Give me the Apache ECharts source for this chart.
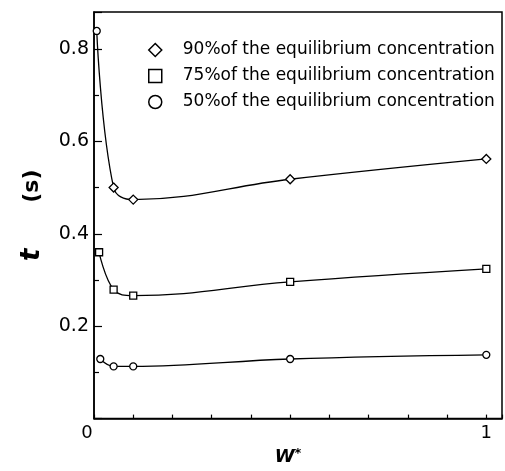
<!DOCTYPE html>
<html>
<head>
<meta charset="utf-8">
<script src="https://cdn.jsdelivr.net/npm/echarts@6/dist/echarts.min.js"></script>
<style>
  html, body { margin: 0; padding: 0; background: #fff; }
  #chart { width: 505px; height: 471px; }
</style>
</head>
<body>
<div id="chart"></div>
<script>
// Dimensionless width W* and the time t (s) to reach a fraction of the equilibrium concentration
const seriesNames = [
  '90%of the equilibrium concentration',
  '75%of the equilibrium concentration',
  '50%of the equilibrium concentration'
];
const symbols = ['diamond', 'rect', 'circle'];

const wStar90 = [0.007, 0.05, 0.1, 0.5, 1];
const time90  = [0.839, 0.500, 0.474, 0.518, 0.562];

const wStar75 = [0.013, 0.05, 0.1, 0.5, 1];
const time75  = [0.360, 0.279, 0.266, 0.296, 0.324];

const wStar50 = [0.016, 0.05, 0.1, 0.5, 1];
const time50  = [0.129, 0.113, 0.113, 0.129, 0.138];

const xLabels = { 0: '{z|0}', 1: '1' };
const yLabels = ['0.2', '0.4', '0.6', '0.8'];

const FONT = 'DejaVu Sans';

function pairs(xs, ys) {
  return xs.map((x, i) => [x, ys[i]]);
}

function makeSeries(name, symbol, xs, ys, firstSymbol) {
  const data = pairs(xs, ys).map((p, i) =>
    (i === 0 && firstSymbol) ? { value: p, symbol: firstSymbol, symbolSize: 7 } : p);
  return {
    name: name,
    type: 'line',
    smooth: 0.4,
    symbol: symbol,
    symbolSize: symbol === 'diamond' ? 9 : 7,
    showSymbol: true,
    lineStyle: { color: '#000', width: 1.3 },
    itemStyle: { color: '#fff', borderColor: '#000', borderWidth: 1.3 },
    emphasis: { disabled: true },
    data: data,
    z: 3
  };
}

const chart = echarts.init(document.getElementById('chart'), null, { renderer: 'canvas' });

chart.setOption({
  animation: false,
  backgroundColor: '#fff',
  grid: {
    left: 94, right: 2, top: 12, bottom: 52,
    show: true, borderColor: '#000', borderWidth: 1.5, backgroundColor: 'transparent'
  },
  legend: {
    orient: 'vertical',
    left: 143,
    top: 35,
    itemWidth: 13,
    itemHeight: 13,
    itemGap: 6,
    selectedMode: false,
    data: seriesNames.map((n, i) => ({ name: n, icon: symbols[i] })),
    itemStyle: { color: '#fff', borderColor: '#000', borderWidth: 1.5 },
    lineStyle: { opacity: 0 },
    textStyle: {
      fontFamily: FONT, fontSize: 17, color: '#000', lineHeight: 20,
      padding: [0, 0, 0, 16]
    }
  },
  xAxis: {
    type: 'value',
    min: 0, max: 1.04, interval: 0.1,
    name: '{w|W}{s|*}',
    nameLocation: 'middle',
    nameGap: 26,
    nameTextStyle: {
      padding: [0, 20, 0, 0],
      rich: {
        w: { fontFamily: FONT, fontSize: 18, fontStyle: 'italic', fontWeight: 'bold', color: '#000' },
        s: { fontFamily: FONT, fontSize: 13, fontWeight: 'bold', color: '#000', verticalAlign: 'top', padding: [0, 0, 6, 0] }
      }
    },
    axisLine: { lineStyle: { color: '#000', width: 1.5 } },
    axisTick: { inside: true, length: 4, lineStyle: { color: '#000', width: 1.2 } },
    splitLine: { show: false },
    axisLabel: {
      margin: 6,
      fontFamily: FONT, fontSize: 18, color: '#000',
      formatter: v => {
        const r = Math.round(v * 100) / 100;
        return xLabels[r] !== undefined ? xLabels[r] : '';
      },
      rich: { z: { fontFamily: FONT, fontSize: 18, color: '#000', padding: [0, 14, 0, 0] } }
    }
  },
  yAxis: {
    type: 'value',
    min: 0, max: 0.88, interval: 0.2,
    name: '{t|t}      (s)',
    nameLocation: 'middle',
    nameGap: 49,
    nameTextStyle: {
      fontFamily: FONT, fontSize: 22, fontWeight: 'bold', color: '#000',
      rich: {
        t: { fontFamily: FONT, fontSize: 26, fontStyle: 'italic', fontWeight: 'bold', color: '#000' }
      }
    },
    axisLine: { lineStyle: { color: '#000', width: 1.5 } },
    axisTick: { inside: true, length: 8, lineStyle: { color: '#000', width: 1.2 } },
    minorTick: { show: true, splitNumber: 2, length: 5, lineStyle: { color: '#000', width: 1.2 } },
    splitLine: { show: false },
    minorSplitLine: { show: false },
    axisLabel: {
      margin: 5,
      fontFamily: FONT, fontSize: 19, color: '#000',
      formatter: v => {
        const s = (Math.round(v * 10) / 10).toFixed(1);
        return yLabels.indexOf(s) >= 0 ? s : '';
      }
    }
  },
  series: [
    makeSeries(seriesNames[0], symbols[0], wStar90, time90, 'circle'),
    makeSeries(seriesNames[1], symbols[1], wStar75, time75),
    makeSeries(seriesNames[2], symbols[2], wStar50, time50)
  ]
});
</script>
</body>
</html>
